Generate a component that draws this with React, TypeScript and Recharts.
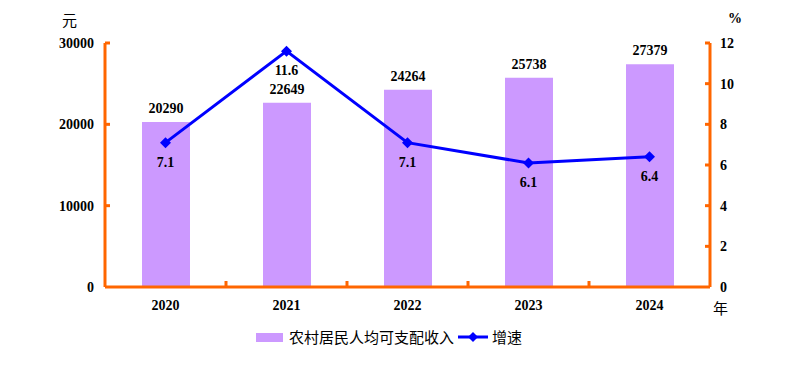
import { Bar, ComposedChart, LabelList, Line, XAxis, YAxis } from "recharts";

const years = ["2020", "2021", "2022", "2023", "2024"];
const income = [20290, 22649, 24264, 25738, 27379];
const growth = [7.1, 11.6, 7.1, 6.1, 6.4];
const leftTicks = [0, 10000, 20000, 30000];
const rightTicks = [0, 2, 4, 6, 8, 10, 12];

const ORANGE = "#FF6600";
const PURPLE = "#CC99FF";
const BLUE = "#0000FF";
const NUM_FONT = "'Liberation Serif', 'Times New Roman', serif";
const CJK_FONT = "'Noto Sans CJK SC', sans-serif";

const rows = years.map((y, i) => ({ year: y, income: income[i], growth: growth[i] }));

const numStyle = { fontFamily: NUM_FONT, fontWeight: 700, fontSize: 14, fill: "#000" };

function Diamond({ cx, cy }: { cx?: number; cy?: number }) {
  if (cx == null || cy == null) return null;
  const r = 5.5;
  return (
    <polygon
      points={`${cx},${cy - r} ${cx + r},${cy} ${cx},${cy + r} ${cx - r},${cy}`}
      fill={BLUE}
    />
  );
}

function LeftTick(props: any) {
  const { x, y, payload } = props;
  return (
    <g>
      {payload.value !== 0 && <line x1={x} x2={x + 5} y1={y} y2={y} stroke={ORANGE} strokeWidth={3} />}
      <text x={x - 11} y={y} dy={5} textAnchor="end" {...numStyle}>
        {payload.value}
      </text>
    </g>
  );
}

function RightTick(props: any) {
  const { x, y, payload } = props;
  return (
    <g>
      {payload.value !== 0 && <line x1={x - 5} x2={x} y1={y} y2={y} stroke={ORANGE} strokeWidth={3} />}
      <text x={x + 10} y={y} dy={5} textAnchor="start" {...numStyle}>
        {payload.value}
      </text>
    </g>
  );
}

function BottomTick(props: any) {
  const { x, y, payload, index } = props;
  const half = payload?.offset ?? 60.5;
  return (
    <g>
      {index < years.length - 1 && (
        <line x1={x + half} x2={x + half} y1={y - 6} y2={y} stroke={ORANGE} strokeWidth={3} />
      )}
      <text x={x} y={y} dy={23} textAnchor="middle" {...numStyle}>
        {payload.value}
      </text>
    </g>
  );
}

export default function App() {
  return (
    <div style={{ position: "absolute", left: 0, top: 0, width: 786, height: 368, background: "#fff" }}>
      <ComposedChart
        width={786}
        height={368}
        data={rows}
        margin={{ top: 43, right: 16, bottom: 51, left: 45 }}
      >
        <XAxis
          dataKey="year"
          height={30}
          axisLine={{ stroke: ORANGE, strokeWidth: 3 }}
          tickLine={false}
          tickSize={0}
          tickMargin={0}
          tick={<BottomTick />}
          interval={0}
        />
        <YAxis
          yAxisId="left"
          width={60}
          domain={[0, 30000]}
          ticks={leftTicks}
          axisLine={{ stroke: ORANGE, strokeWidth: 3 }}
          tickLine={false}
          tickSize={0}
          tickMargin={0}
          tick={<LeftTick />}
        />
        <YAxis
          yAxisId="right"
          orientation="right"
          width={60}
          domain={[0, 12]}
          ticks={rightTicks}
          axisLine={{ stroke: ORANGE, strokeWidth: 3 }}
          tickLine={false}
          tickSize={0}
          tickMargin={0}
          tick={<RightTick />}
        />
        <Bar yAxisId="left" dataKey="income" fill={PURPLE} barSize={48} isAnimationActive={false}>
          <LabelList dataKey="income" position="top" offset={9} style={numStyle} />
        </Bar>
        <Line
          yAxisId="right"
          dataKey="growth"
          stroke={BLUE}
          strokeWidth={3}
          dot={<Diamond />}
          activeDot={false}
          isAnimationActive={false}
        >
          <LabelList dataKey="growth" position="bottom" offset={14} style={numStyle} />
        </Line>
      </ComposedChart>

      <div style={{ position: "absolute", left: 62, top: 9, fontFamily: CJK_FONT, fontSize: 15 }}>元</div>
      <div
        style={{
          position: "absolute",
          left: 728,
          top: 11,
          fontFamily: NUM_FONT,
          fontWeight: 700,
          fontSize: 14,
        }}
      >
        %
      </div>
      <div style={{ position: "absolute", left: 713, top: 297, fontFamily: CJK_FONT, fontSize: 15 }}>年</div>

      <div
        style={{
          position: "absolute",
          left: 256,
          top: 327,
          display: "flex",
          alignItems: "center",
          fontFamily: CJK_FONT,
          fontSize: 15,
          lineHeight: "20px",
          color: "#000",
        }}
      >
        <span style={{ display: "inline-block", width: 27, height: 9, background: PURPLE, marginRight: 6 }} />
        <span>农村居民人均可支配收入</span>
        <svg width={32} height={12} style={{ margin: "0 3px 0 3px" }}>
          <line x1={1} x2={31} y1={6} y2={6} stroke={BLUE} strokeWidth={3} />
          <polygon points="16,1 21,6 16,11 11,6" fill={BLUE} />
        </svg>
        <span>增速</span>
      </div>
    </div>
  );
}
